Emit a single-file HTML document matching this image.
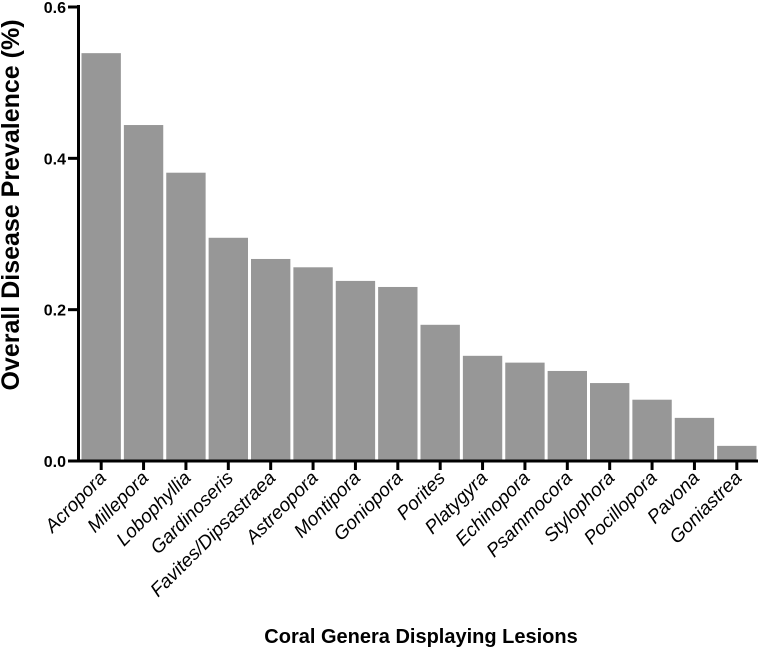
<!DOCTYPE html>
<html><head><meta charset="utf-8"><style>
body{margin:0;background:#fff}
svg text{font-family:"Liberation Sans",Arial,sans-serif}
</style></head><body>
<svg id="chart" width="763" height="648">
<g id="bars"></g>
<g id="axes"></g>
<text x="19" y="205" transform="rotate(-90 19 205)" text-anchor="middle" font-size="25" font-weight="bold">Overall Disease Prevalence  (%)</text>
<text x="421" y="643" text-anchor="middle" font-size="20" font-weight="bold">Coral Genera Displaying Lesions</text>
</svg>
<script>
const categories=["Acropora","Millepora","Lobophyllia","Gardinoseris","Favites/Dipsastraea","Astreopora","Montipora","Goniopora","Porites","Platygyra","Echinopora","Psammocora","Stylophora","Pocillopora","Pavona","Goniastrea"];
const values=[0.539,0.444,0.381,0.295,0.267,0.256,0.238,0.230,0.180,0.139,0.130,0.119,0.103,0.081,0.057,0.020];
const yTicks=[0,0.2,0.4,0.6];
const yTickLabels=["0.0","0.2","0.4","0.6"];
const NS="http://www.w3.org/2000/svg";
const x0=80,x1=758,yBase=461,yTop=7,yMax=0.6;
const step=(x1-x0)/categories.length;
function y(v){return yBase-(v/yMax)*(yBase-yTop);}
function xc(i){return x0+step*i+step/2;}
const bars=document.getElementById('bars'),axes=document.getElementById('axes');
function mk(t,a,p){const e=document.createElementNS(NS,t);for(const k in a)e.setAttribute(k,a[k]);p.appendChild(e);return e;}
categories.forEach((c,i)=>{
 const r=mk('rect',{x:x0+step*i+1.5,y:y(values[i]),width:step-3,height:yBase-y(values[i]),fill:'#979797'},bars);
 
 
 const tk=mk('line',{x1:xc(i),x2:xc(i),y1:yBase,y2:yBase+9,stroke:'#000','stroke-width':3},axes);
 
 
 const ax=xc(i)+6,ay=yBase+18;
 const tx=mk('text',{x:ax,y:ay,'text-anchor':'end','font-size':19,'font-style':'italic',transform:`rotate(-45 ${ax} ${ay})`},axes);
 tx.textContent=c;
 
 
});
const ya=mk('line',{x1:x0-1.5,x2:x0-1.5,y1:yTop-2,y2:yBase+1.5,stroke:'#000','stroke-width':3},axes);


const xa=mk('line',{x1:x0-12,x2:x1,y1:yBase,y2:yBase,stroke:'#000','stroke-width':3},axes);


yTicks.forEach((v,i)=>{
 const t=mk('line',{x1:x0-12,x2:x0,y1:y(v),y2:y(v),stroke:'#000','stroke-width':3},axes);
 
 
 const l=mk('text',{x:x0-14,y:y(v)+6,'text-anchor':'end','font-size':16,'font-weight':'bold'},axes);
 l.textContent=yTickLabels[i];
 
 
});
</script>
</body></html>
